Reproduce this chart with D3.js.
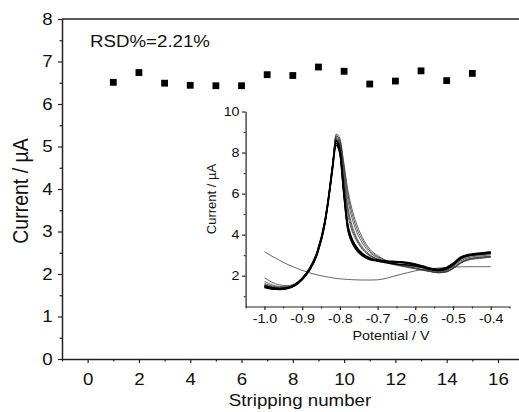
<!DOCTYPE html>
<html><head><meta charset="utf-8">
<script src="https://cdn.jsdelivr.net/npm/d3@7"></script>
<style>
body{margin:0;background:#fff}
svg text{font-family:"Liberation Sans",Arial,Helvetica,sans-serif;fill:#111}
</style>
</head><body>
<svg id="c" width="519" height="412"></svg>
<script>
// ---------- main chart data ----------
const strippingNumber = [1,2,3,4,5,6,7,8,9,10,11,12,13,14,15];
const currentValues = [6.51,6.74,6.49,6.44,6.43,6.43,6.69,6.67,6.87,6.77,6.47,6.54,6.78,6.55,6.72];
const xTickValues = [0,2,4,6,8,10,12,14,16];
const xMinorTicks = [-1,1,3,5,7,9,11,13,15];
const yTickValues = [0,1,2,3,4,5,6,7,8];
const yMinorTicks = [0.5,1.5,2.5,3.5,4.5,5.5,6.5,7.5];
const annotation = "RSD%=2.21%";

// ---------- inset data ----------
const potential = [-1.00,-0.98,-0.96,-0.94,-0.92,-0.90,-0.88,-0.86,-0.84,-0.83,-0.82,-0.81,-0.80,-0.79,-0.78,-0.77,-0.76,-0.74,-0.72,-0.70,-0.68,-0.66,-0.64,-0.62,-0.60,-0.58,-0.56,-0.54,-0.52,-0.50,-0.48,-0.46,-0.44,-0.42,-0.40];
const scanA1 = [1.45,1.37,1.34,1.38,1.52,1.82,2.30,3.10,4.55,5.75,7.20,8.45,8.00,6.10,4.40,3.75,3.40,3.00,2.82,2.74,2.70,2.68,2.67,2.62,2.55,2.45,2.34,2.29,2.36,2.58,2.88,3.01,3.06,3.10,3.14];
const scanA2 = [1.42,1.35,1.33,1.37,1.50,1.80,2.28,3.05,4.50,5.70,7.10,8.35,7.95,6.05,4.35,3.70,3.35,2.96,2.78,2.72,2.69,2.67,2.66,2.61,2.53,2.43,2.32,2.27,2.33,2.55,2.85,2.99,3.04,3.08,3.12];
const scanA3 = [1.48,1.40,1.37,1.40,1.55,1.86,2.34,3.14,4.62,5.82,7.25,8.55,8.10,6.20,4.50,3.82,3.46,3.04,2.85,2.76,2.72,2.70,2.68,2.64,2.57,2.47,2.36,2.31,2.38,2.60,2.90,3.03,3.08,3.12,3.16];
const scanA4 = [1.50,1.42,1.38,1.42,1.57,1.88,2.37,3.18,4.66,5.86,7.30,8.60,8.15,6.30,4.60,3.90,3.52,3.08,2.86,2.72,2.64,2.58,2.55,2.52,2.47,2.40,2.30,2.25,2.30,2.52,2.82,2.97,3.02,3.06,3.10];
const scanB1 = [1.90,1.68,1.55,1.52,1.60,1.88,2.35,3.15,4.60,5.80,7.25,8.70,8.45,7.00,5.50,4.60,4.05,3.40,3.02,2.82,2.66,2.55,2.47,2.40,2.33,2.26,2.20,2.16,2.20,2.38,2.66,2.82,2.88,2.92,2.95];
const scanB2 = [1.72,1.56,1.47,1.46,1.56,1.85,2.32,3.12,4.58,5.78,7.22,8.80,8.55,7.25,5.85,4.95,4.35,3.58,3.12,2.88,2.70,2.58,2.50,2.43,2.36,2.28,2.20,2.14,2.17,2.34,2.60,2.76,2.82,2.86,2.90];
const scanB3 = [1.58,1.46,1.41,1.42,1.54,1.84,2.31,3.10,4.56,5.76,7.20,8.90,8.70,7.45,6.10,5.20,4.55,3.72,3.20,2.93,2.74,2.62,2.53,2.46,2.38,2.30,2.22,2.16,2.19,2.36,2.63,2.80,2.87,2.91,2.94];
const scanB4 = [1.55,1.44,1.39,1.41,1.53,1.83,2.30,3.08,4.52,5.72,7.15,8.75,8.35,6.70,5.10,4.30,3.85,3.28,2.96,2.80,2.68,2.60,2.54,2.50,2.44,2.36,2.26,2.20,2.24,2.44,2.72,2.88,2.94,2.98,3.02];
const scanB5 = [1.52,1.42,1.37,1.40,1.52,1.82,2.29,3.06,4.50,5.70,7.12,8.65,8.30,6.80,5.30,4.45,3.95,3.32,2.98,2.80,2.70,2.66,2.62,2.58,2.50,2.40,2.28,2.22,2.27,2.48,2.78,2.93,2.99,3.03,3.07];
const scanB6 = [1.62,1.50,1.44,1.45,1.56,1.86,2.33,3.12,4.58,5.78,7.22,8.82,8.60,7.55,6.30,5.40,4.75,3.85,3.28,2.98,2.77,2.62,2.52,2.44,2.36,2.28,2.21,2.15,2.18,2.35,2.62,2.78,2.84,2.88,2.92];
const blankScan = [3.17,2.95,2.75,2.56,2.40,2.26,2.14,2.04,1.96,1.93,1.90,1.87,1.85,1.83,1.82,1.81,1.80,1.79,1.79,1.80,1.86,1.96,2.06,2.15,2.24,2.30,2.34,2.37,2.40,2.42,2.43,2.44,2.44,2.44,2.44];
const insetXTicks = [-1.0,-0.9,-0.8,-0.7,-0.6,-0.5,-0.4];
const insetXMinor = [-1.05,-0.95,-0.85,-0.75,-0.65,-0.55,-0.45,-0.35];
const insetYTicks = [2,4,6,8,10];
const insetYMinor = [1,3,5,7,9];

const thinScans = [scanB1,scanB2,scanB3,scanB4,scanB5,scanB6];
const thickScans = [scanA1,scanA2,scanA3,scanA4];

// ---------- drawing ----------
const SX = 1.1; // horizontal glyph stretch of the original
const AX = "#222";
const svg = d3.select("#c");

const x = d3.scaleLinear().domain([-1,16.8]).range([62,518.5]);
const y = d3.scaleLinear().domain([0,8]).range([359,19]);

function styleAxis(g, fs){
  g.select(".domain").attr("stroke",AX).attr("stroke-width",1.5);
  g.selectAll(".tick line").attr("stroke",AX).attr("stroke-width",1.2);
  g.selectAll(".tick text").attr("font-size",fs).attr("fill","#111");
}

// top frame line
svg.append("line").attr("x1",x(-1)).attr("x2",519).attr("y1",y(8)).attr("y2",y(8))
  .attr("stroke",AX).attr("stroke-width",1.5);

// x axis minor + major
svg.append("g").attr("transform",`translate(0,${y(0)})`)
  .call(d3.axisBottom(x).tickValues(xMinorTicks).tickSize(2.5).tickSizeOuter(0).tickFormat(""))
  .call(g=>{g.select(".domain").remove();g.selectAll(".tick line").attr("stroke",AX).attr("stroke-width",1.2);});
const gx = svg.append("g").attr("transform",`translate(0,${y(0)})`)
  .call(d3.axisBottom(x).tickValues(xTickValues).tickSize(4).tickSizeOuter(0).tickPadding(10).tickFormat(d3.format("d")));
styleAxis(gx,17);
gx.selectAll(".tick text").attr("transform",`scale(${SX},1)`);

// y axis minor + major
svg.append("g").attr("transform",`translate(${x(-1)},0)`)
  .call(d3.axisLeft(y).tickValues(yMinorTicks).tickSize(2.5).tickSizeOuter(0).tickFormat(""))
  .call(g=>{g.select(".domain").remove();g.selectAll(".tick line").attr("stroke",AX).attr("stroke-width",1.2);});
const gy = svg.append("g").attr("transform",`translate(${x(-1)},0)`)
  .call(d3.axisLeft(y).tickValues(yTickValues).tickSize(4).tickSizeOuter(0).tickPadding(4.5).tickFormat(d3.format("d")));
styleAxis(gy,17);
gy.selectAll(".tick text").attr("transform",`scale(${SX},1)`);

// axis titles
svg.append("text").attr("text-anchor","middle")
  .attr("transform",`translate(300,406) scale(${SX},1)`)
  .attr("font-size",17).text("Stripping number");
svg.append("text").attr("text-anchor","middle")
  .attr("transform","translate(28,191) rotate(-90) scale(1,1.1)")
  .attr("font-size",19.5).text("Current / µA");

// annotation
svg.append("text").attr("transform",`translate(90,47.3) scale(${SX},1)`)
  .attr("font-size",17).text(annotation);

// squares
const sq = 6.8;
svg.append("g").selectAll("rect").data(strippingNumber).join("rect")
  .attr("x",(d)=>x(d)-sq/2).attr("y",(d,i)=>y(currentValues[i])-sq/2)
  .attr("width",sq).attr("height",sq).attr("fill","#000");

// ---------- inset ----------
const ix = d3.scaleLinear().domain([-1.05,-0.35]).range([245.6,509.6]);
const iy = d3.scaleLinear().domain([0.5,10]).range([306.5,111.5]);

svg.append("g").attr("transform",`translate(0,${iy(0.5)})`)
  .call(d3.axisBottom(ix).tickValues(insetXMinor).tickSize(2).tickSizeOuter(0).tickFormat(""))
  .call(g=>{g.select(".domain").remove();g.selectAll(".tick line").attr("stroke",AX).attr("stroke-width",1);});
const igx = svg.append("g").attr("transform",`translate(0,${iy(0.5)})`)
  .call(d3.axisBottom(ix).tickValues(insetXTicks).tickSize(3.5).tickSizeOuter(0).tickPadding(4).tickFormat(d3.format(".1f")));
styleAxis(igx,13);
igx.select(".domain").attr("stroke-width",1.2);
igx.selectAll(".tick text").attr("transform",`scale(${SX},1)`).text(d=>d3.format(".1f")(d).replace("−","-"));

svg.append("g").attr("transform",`translate(${ix(-1.05)},0)`)
  .call(d3.axisLeft(iy).tickValues(insetYMinor).tickSize(2).tickSizeOuter(0).tickFormat(""))
  .call(g=>{g.select(".domain").remove();g.selectAll(".tick line").attr("stroke",AX).attr("stroke-width",1);});
const igy = svg.append("g").attr("transform",`translate(${ix(-1.05)},0)`)
  .call(d3.axisLeft(iy).tickValues(insetYTicks).tickSize(3.5).tickSizeOuter(0).tickPadding(2).tickFormat(d3.format("d")));
styleAxis(igy,13);
igy.select(".domain").attr("stroke-width",1.2);
igy.selectAll(".tick text").attr("transform",`scale(${SX},1)`);

svg.append("text").attr("text-anchor","middle")
  .attr("transform",`translate(391,339.5) scale(${SX},1)`)
  .attr("font-size",13).text("Potential / V");
svg.append("text").attr("text-anchor","middle")
  .attr("transform","translate(216,199) rotate(-90)")
  .attr("font-size",13).text("Current / µA");

const line = d3.line().x(d=>ix(d[0])).y(d=>iy(d[1])).curve(d3.curveMonotoneX);
const toPts = arr => potential.map((p,i)=>[p,arr[i]]);

svg.append("path").datum(toPts(blankScan)).attr("d",line)
  .attr("fill","none").attr("stroke","#555").attr("stroke-width",0.9);
svg.append("g").selectAll("path").data(thinScans).join("path")
  .attr("d",d=>line(toPts(d))).attr("fill","none").attr("stroke","#3a3a3a").attr("stroke-width",0.8);
svg.append("g").selectAll("path").data(thickScans).join("path")
  .attr("d",d=>line(toPts(d))).attr("fill","none").attr("stroke","#000").attr("stroke-width",1.5);
</script>
</body></html>
